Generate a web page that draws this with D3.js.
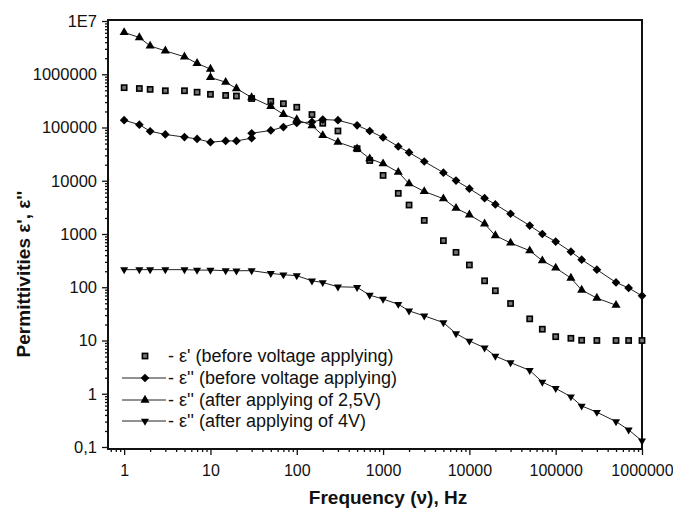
<!DOCTYPE html>
<html>
<head>
<meta charset="utf-8">
<script src="https://cdn.jsdelivr.net/npm/d3@7/dist/d3.min.js"></script>
<style>
    body { margin: 0; background: #fff; }
    svg { display: block; font-family: "Liberation Sans", Arial, sans-serif; }
</style>
</head>
<body>
<div id="chart"></div>
<script>
/* eslint-env browser */

// frequencies (Hz) and permittivities
var freqEps1Before = [1, 1.5, 2, 3, 5, 7, 10, 15, 20, 30, 50, 70, 100, 150, 200, 300, 500, 700, 1000, 1500, 2000, 3000, 5000, 7000, 10000, 15000, 20000, 30000, 50000, 70000, 100000, 150000, 200000, 300000, 500000, 700000, 1000000],
    eps1Before = [5.6e5, 5.4e5, 5.2e5, 4.9e5, 4.9e5, 4.6e5, 4.2e5, 4.0e5, 3.9e5, 3.5e5, 3.1e5, 2.8e5, 2.4e5, 1.75e5, 1.2e5, 8.6e4, 4.0e4, 2.4e4, 1.26e4, 5.8e3, 3.5e3, 1.8e3, 750, 452, 262, 132, 86, 49.5, 25.5, 16.3, 11.8, 11, 10.1, 10, 10, 10, 10];

var freqEps2Before = [1, 1.5, 2, 3, 5, 7, 10, 15, 20, 30, 30, 50, 70, 100, 150, 200, 300, 500, 700, 1000, 1500, 2000, 3000, 5000, 7000, 10000, 15000, 20000, 30000, 50000, 70000, 100000, 150000, 200000, 300000, 500000, 700000, 1000000],
    eps2Before = [1.37e5, 1.13e5, 8.5e4, 7.4e4, 6.6e4, 6.1e4, 5.3e4, 5.6e4, 5.6e4, 6.3e4, 7.8e4, 8.8e4, 1.02e5, 1.22e5, 1.27e5, 1.41e5, 1.37e5, 1.1e5, 8.6e4, 6.5e4, 4.4e4, 3.4e4, 2.3e4, 1.42e4, 1.01e4, 7.1e3, 4.7e3, 3.6e3, 2.4e3, 1.44e3, 1.0e3, 720, 466, 330, 214, 123, 97, 69];

var freqEps2After25 = [1, 1.5, 2, 3, 5, 7, 10, 10, 15, 20, 30, 50, 70, 100, 150, 200, 300, 500, 700, 1000, 1500, 2000, 3000, 5000, 7000, 10000, 15000, 20000, 30000, 50000, 70000, 100000, 150000, 200000, 300000, 500000],
    eps2After25 = [6.1e6, 4.9e6, 3.4e6, 2.75e6, 2.13e6, 1.6e6, 1.25e6, 8.7e5, 7.1e5, 5.4e5, 3.66e5, 2.5e5, 1.77e5, 1.41e5, 1.09e5, 7.1e4, 5.3e4, 4.0e4, 2.6e4, 2.09e4, 1.45e4, 8.8e3, 6.3e3, 4.6e3, 3.05e3, 2.29e3, 1.55e3, 933, 680, 486, 316, 230, 149, 88.5, 62.6, 46];

var freqEps2After4 = [1, 1.5, 2, 3, 5, 7, 10, 15, 20, 30, 50, 70, 100, 150, 200, 300, 500, 700, 1000, 1500, 2000, 3000, 5000, 7000, 10000, 15000, 20000, 30000, 50000, 70000, 100000, 150000, 200000, 300000, 500000, 700000, 1000000],
    eps2After4 = [214, 214, 214, 214, 214, 210, 210, 205, 204, 205, 182, 172, 165, 132, 123, 102, 100, 71, 60, 48, 36, 29, 21.7, 13.5, 9.8, 7.3, 5.1, 3.84, 2.75, 1.66, 1.26, 0.88, 0.59, 0.45, 0.30, 0.21, 0.13];

var xTicks = [1, 10, 100, 1000, 10000, 100000, 1000000],
    xTickLabels = ["1", "10", "100", "1000", "10000", "100000", "1000000"],
    yTicks = [0.1, 1, 10, 100, 1000, 10000, 100000, 1000000, 10000000],
    yTickLabels = ["0,1", "1", "10", "100", "1000", "10000", "100000", "1000000", "1E7"];

var legendLabels = [
    "- \u03b5' (before voltage applying)",
    "- \u03b5'' (before voltage applying)",
    "- \u03b5'' (after applying of 2,5V)",
    "- \u03b5'' (after applying of 4V)"
];

function zip(xs, ys) {
    return xs.map(function (x, i) { return { f: x, v: ys[i] }; });
}

var series = [
    { data: zip(freqEps1Before, eps1Before), symbol: "square", line: false },
    { data: zip(freqEps2Before, eps2Before), symbol: "diamond", line: true },
    { data: zip(freqEps2After25, eps2After25), symbol: "up", line: true },
    { data: zip(freqEps2After4, eps2After4), symbol: "down", line: true }
];

var width = 673,
    height = 516,
    plot = { left: 108, right: 642, top: 20, bottom: 449 },
    svg = d3.select("#chart").append("svg")
        .attr("width", width)
        .attr("height", height),
    x = d3.scaleLog()
        .domain([0.65, 1e6])
        .range([plot.left, plot.right]),
    y = d3.scaleLog()
        .domain([0.1, 1e7])
        .range([447, 21]);

function drawMarker(g, kind) {
    if (kind === "square") {
        g.append("rect")
            .attr("x", -2.6).attr("y", -2.6)
            .attr("width", 5.2).attr("height", 5.2)
            .attr("fill", "#777")
            .attr("stroke", "#000")
            .attr("stroke-width", 1.6);
    } else if (kind === "diamond") {
        g.append("path")
            .attr("d", d3.symbol().type(d3.symbolSquare).size(38)())
            .attr("transform", "rotate(45)")
            .attr("fill", "#000");
    } else if (kind === "up") {
        g.append("path")
            .attr("d", d3.symbol().type(d3.symbolTriangle).size(36)())
            .attr("fill", "#000");
    } else {
        g.append("path")
            .attr("d", d3.symbol().type(d3.symbolTriangle).size(28)())
            .attr("transform", "rotate(180)")
            .attr("fill", "#000");
    }
}

// minor ticks for log axes
var xMinor = [],
    yMinor = [];
d3.range(-1, 6).forEach(function (e) {
    d3.range(2, 10).forEach(function (m) {
        var v = m * Math.pow(10, e);
        if (v >= 0.65 && v <= 1e6) { xMinor.push(v); }
    });
});
d3.range(-1, 7).forEach(function (e) {
    d3.range(2, 10).forEach(function (m) {
        yMinor.push(m * Math.pow(10, e));
    });
});

// bottom axis
var xAxis = svg.append("g")
    .attr("transform", "translate(0," + plot.bottom + ")");
xAxis.call(d3.axisBottom(x).tickValues(xMinor).tickSize(3).tickFormat(""));
xAxis.append("g").call(d3.axisBottom(x).tickValues(xTicks).tickSize(6).tickPadding(10)
    .tickFormat(function (d, i) { return xTickLabels[i]; }));
xAxis.selectAll(".domain").remove();
xAxis.selectAll("line").attr("stroke", "#111").attr("stroke-width", 1.3);
xAxis.selectAll("text")
    .attr("fill", "#111")
    .style("font-size", "16px");

// left axis
var yAxis = svg.append("g")
    .attr("transform", "translate(" + plot.left + ",0)");
yAxis.call(d3.axisLeft(y).tickValues(yMinor).tickSize(3).tickFormat(""));
yAxis.append("g").call(d3.axisLeft(y).tickValues(yTicks).tickSize(6).tickPadding(5)
    .tickFormat(function (d, i) { return yTickLabels[i]; }));
yAxis.selectAll(".domain").remove();
yAxis.selectAll("line").attr("stroke", "#111").attr("stroke-width", 1.3);
yAxis.selectAll("text")
    .attr("fill", "#111")
    .style("font-size", "16.5px");

// frame
svg.append("rect")
    .attr("x", plot.left)
    .attr("y", plot.top)
    .attr("width", plot.right - plot.left)
    .attr("height", plot.bottom - plot.top)
    .attr("fill", "none")
    .attr("stroke", "#111")
    .attr("stroke-width", 2);

var line = d3.line()
    .x(function (d) { return x(d.f); })
    .y(function (d) { return y(d.v); });

series.forEach(function (s) {
    if (s.line) {
        svg.append("path")
            .datum(s.data)
            .attr("d", line)
            .attr("fill", "none")
            .attr("stroke", "#222")
            .attr("stroke-width", 1);
    }
});

series.forEach(function (s) {
    svg.append("g")
        .selectAll("g")
        .data(s.data)
        .enter().append("g")
        .attr("transform", function (d) { return "translate(" + x(d.f) + "," + y(d.v) + ")"; })
        .each(function () { drawMarker(d3.select(this), s.symbol); });
});

// legend
var legendY = [356, 378, 400, 421],
    legend = svg.append("g");

series.forEach(function (s, i) {
    var row = legend.append("g").attr("transform", "translate(0," + legendY[i] + ")");
    if (s.line) {
        row.append("line")
            .attr("x1", 122).attr("x2", 166)
            .attr("stroke", "#222").attr("stroke-width", 1);
    }
    drawMarker(row.append("g").attr("transform", "translate(145,0)"), s.symbol);
    row.append("text")
        .attr("x", 168)
        .attr("dy", "0.35em")
        .attr("fill", "#111")
        .style("font-size", "18px")
        .text(legendLabels[i]);
});

// axis titles
svg.append("text")
    .attr("x", 388)
    .attr("y", 504)
    .attr("text-anchor", "middle")
    .style("font-size", "19px")
    .style("font-weight", "bold")
    .attr("fill", "#111")
    .text("Frequency (\u03bd), Hz");

svg.append("text")
    .attr("transform", "translate(30,274) rotate(-90)")
    .attr("text-anchor", "middle")
    .style("font-size", "19px")
    .style("font-weight", "bold")
    .attr("fill", "#111")
    .text("Permittivities \u03b5', \u03b5''");
</script>
</body>
</html>
